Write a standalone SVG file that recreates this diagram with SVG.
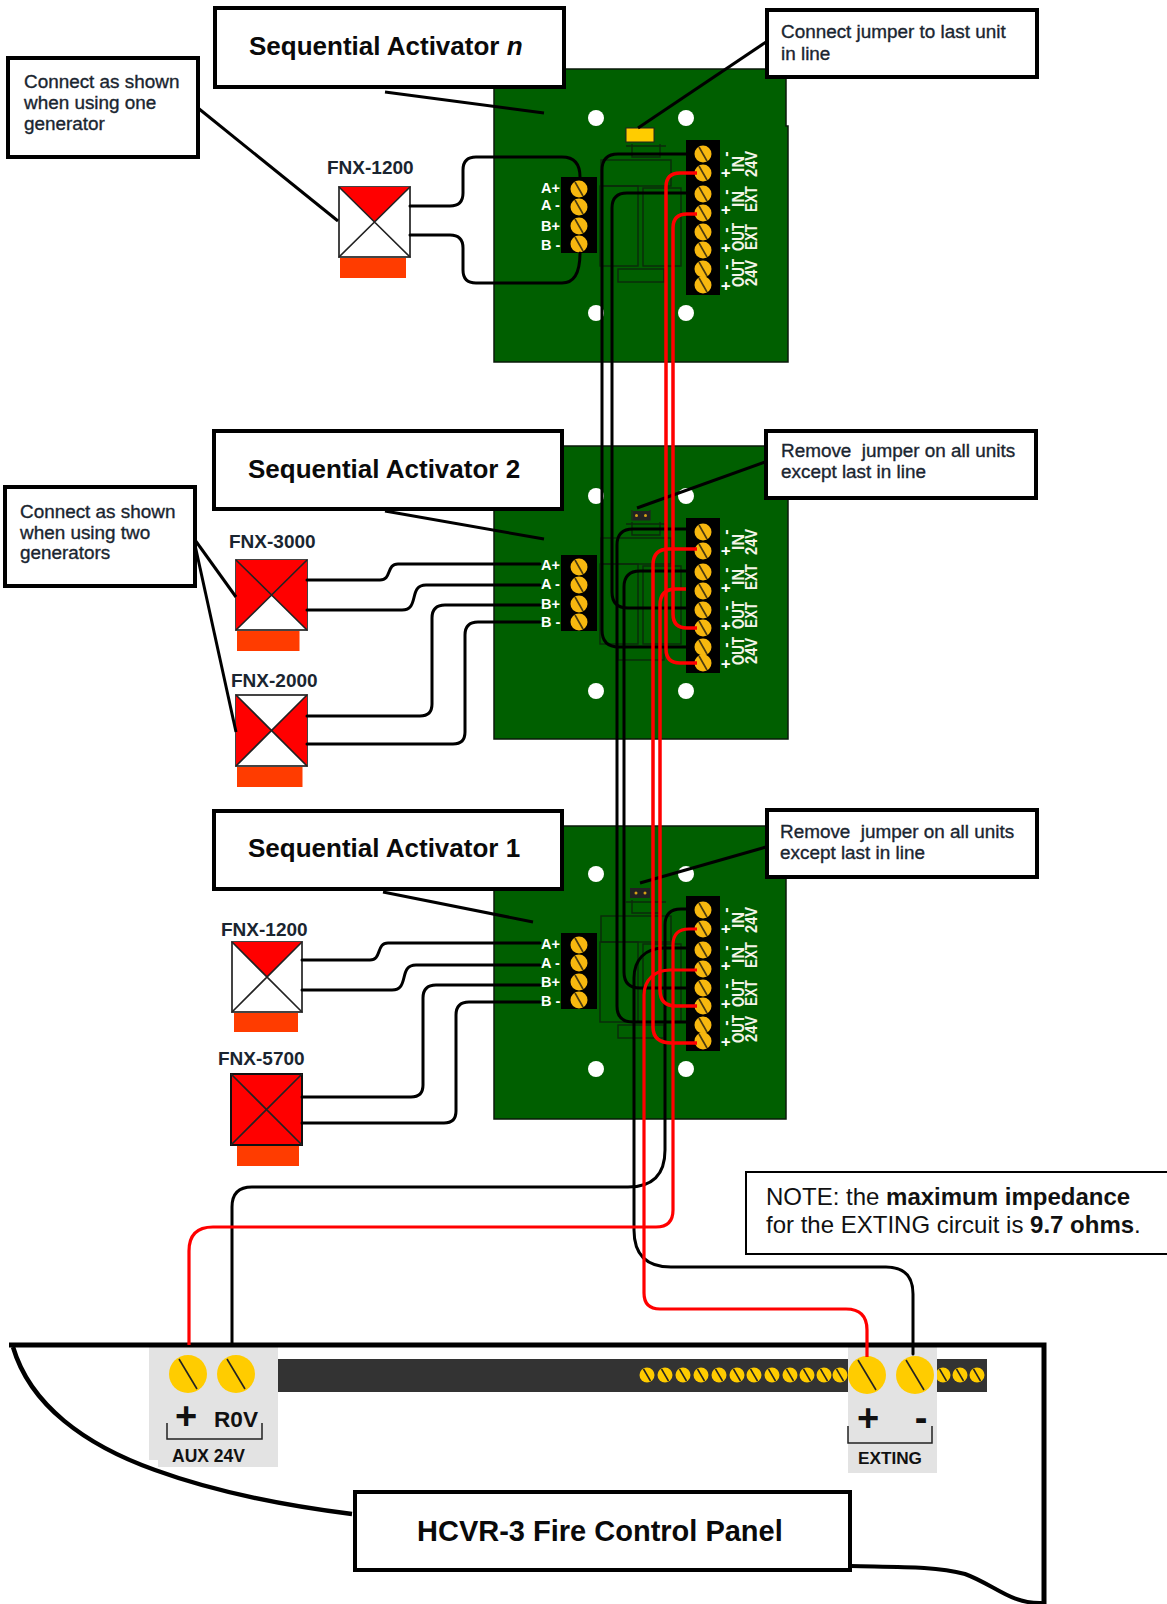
<svg xmlns="http://www.w3.org/2000/svg" width="1167" height="1604" viewBox="0 0 1167 1604">
<style>
text{font-family:"Liberation Sans",Arial,sans-serif}
.b{fill:#fff;stroke:#000;stroke-width:4}
.bd{fill:#005f00;stroke:#0a1a0a;stroke-width:1.5}
.d{fill:none;stroke:#0b2a0b;stroke-width:1.4}
.t{fill:#000}
.h{fill:#fff}
.ttl{font-size:26px;font-weight:bold;fill:#0a0a0a}
.cal{font-size:18.9px;fill:#1a2530;stroke:#1a2530;stroke-width:.35}
.fnx{font-size:19px;font-weight:bold;fill:#1a2530}
.wl{font-size:14.5px;font-weight:bold;fill:#fff}
.rl{font-size:16px;font-weight:bold;fill:#f4f4e8;text-anchor:middle}
.pm{font-size:16px;font-weight:bold;fill:#fff;text-anchor:middle}
.k{fill:none;stroke:#000;stroke-width:3;stroke-linecap:round}
.r{fill:none;stroke:#f00;stroke-width:3.5}
.r2{fill:none;stroke:#f00;stroke-width:3.2}
.l{fill:none;stroke:#000;stroke-width:3}
.o{fill:#ff3c00}
.dv{fill:#fff;stroke:#444;stroke-width:2}
.x{fill:none;stroke:#222;stroke-width:1.6}
.rd{fill:#f00}
.gr{fill:#e3e3e3}
.pl{font-weight:bold;fill:#111}
.br{fill:none;stroke:#222;stroke-width:1.5}
</style>
<defs>
<g id="s"><circle r="8.5" fill="#f7b80f"/><path d="M-4,-7L4,7" stroke="#4a3a10" stroke-width="1.6"/></g>
<g id="sm"><circle r="7.5" fill="#fc0"/><path d="M-3.5,-6L3.5,6" stroke="#222" stroke-width="1.5"/></g>
<g id="bg"><circle r="19" fill="#fc0"/><path d="M-9,-15L9,15" stroke="#222" stroke-width="1.6"/></g>
<g id="detail">
<path class="d" d="M632,144V157H660V144M626,146H666"/>
<rect class="d" x="601" y="160" width="70" height="26"/>
<rect class="d" x="600" y="186" width="38" height="80"/>
<rect class="d" x="643" y="188" width="38" height="78"/>
<rect class="d" x="618" y="269" width="46" height="13"/>
<circle class="h" cx="596" cy="118" r="8"/><circle class="h" cx="686" cy="118" r="8"/><circle class="h" cx="596" cy="313" r="8"/><circle class="h" cx="686" cy="313" r="8"/>
<rect class="t" x="561" y="177" width="36" height="76"/>
<rect class="t" x="686" y="140" width="34" height="155"/>
<use href="#s" x="579" y="189"/><use href="#s" x="579" y="207"/><use href="#s" x="579" y="226"/><use href="#s" x="579" y="244"/>
<use href="#s" x="703" y="154"/><use href="#s" x="703" y="173"/><use href="#s" x="703" y="194"/><use href="#s" x="703" y="213"/><use href="#s" x="703" y="232"/><use href="#s" x="703" y="250"/><use href="#s" x="703" y="269"/><use href="#s" x="703" y="285"/>
</g>
</defs>
<rect width="1167" height="1604" fill="#fff"/>

<g id="board-n">
<path class="bd" d="M494,69H786V126H788V362H494Z"/>
<use href="#detail"/>
<rect x="626" y="128" width="28" height="14" fill="#fc0" stroke="#222" stroke-width="1"/>
<g class="wl"><text x="541" y="193">A+</text><text x="541" y="210">A -</text><text x="541" y="231">B+</text><text x="541" y="250">B -</text></g>
<g class="pm"><text transform="translate(731,154) rotate(-90)">-</text><text transform="translate(731,173) rotate(-90)">+</text><text transform="translate(731,192) rotate(-90)">-</text><text transform="translate(731,210) rotate(-90)">+</text><text transform="translate(731,230) rotate(-90)">-</text><text transform="translate(731,248) rotate(-90)">+</text><text transform="translate(731,267) rotate(-90)">-</text><text transform="translate(731,286) rotate(-90)">+</text></g>
<g class="rl"><text transform="translate(744,164) rotate(-90)">IN</text><text transform="translate(757,164) rotate(-90)" textLength="26" lengthAdjust="spacingAndGlyphs">24V</text><text transform="translate(744,199) rotate(-90)">IN</text><text transform="translate(757,199) rotate(-90)" textLength="26" lengthAdjust="spacingAndGlyphs">EXT</text><text transform="translate(744,237) rotate(-90)" textLength="28" lengthAdjust="spacingAndGlyphs">OUT</text><text transform="translate(757,237) rotate(-90)" textLength="26" lengthAdjust="spacingAndGlyphs">EXT</text><text transform="translate(744,273) rotate(-90)" textLength="28" lengthAdjust="spacingAndGlyphs">OUT</text><text transform="translate(757,273) rotate(-90)" textLength="26" lengthAdjust="spacingAndGlyphs">24V</text></g>
</g>

<g id="board-2">
<rect class="bd" x="494" y="446" width="294" height="293"/>
<use href="#detail" y="378"/>
<path d="M632,510V520H650V510" fill="none" stroke="#222" stroke-width="1.2"/>
<rect x="633" y="511" width="17" height="9" fill="#222"/><circle cx="636.500" cy="515.500" r="1.500" fill="#d4a017"/><circle cx="645.500" cy="515.500" r="1.500" fill="#d4a017"/>
<g class="wl"><text x="541" y="570">A+</text><text x="541" y="589">A -</text><text x="541" y="609">B+</text><text x="541" y="627">B -</text></g>
<g class="pm"><text transform="translate(731,532) rotate(-90)">-</text><text transform="translate(731,551) rotate(-90)">+</text><text transform="translate(731,570) rotate(-90)">-</text><text transform="translate(731,588) rotate(-90)">+</text><text transform="translate(731,608) rotate(-90)">-</text><text transform="translate(731,626) rotate(-90)">+</text><text transform="translate(731,645) rotate(-90)">-</text><text transform="translate(731,664) rotate(-90)">+</text></g>
<g class="rl"><text transform="translate(744,542) rotate(-90)">IN</text><text transform="translate(757,542) rotate(-90)" textLength="26" lengthAdjust="spacingAndGlyphs">24V</text><text transform="translate(744,577) rotate(-90)">IN</text><text transform="translate(757,577) rotate(-90)" textLength="26" lengthAdjust="spacingAndGlyphs">EXT</text><text transform="translate(744,615) rotate(-90)" textLength="28" lengthAdjust="spacingAndGlyphs">OUT</text><text transform="translate(757,615) rotate(-90)" textLength="26" lengthAdjust="spacingAndGlyphs">EXT</text><text transform="translate(744,651) rotate(-90)" textLength="28" lengthAdjust="spacingAndGlyphs">OUT</text><text transform="translate(757,651) rotate(-90)" textLength="26" lengthAdjust="spacingAndGlyphs">24V</text></g>
</g>

<g id="board-1">
<rect class="bd" x="494" y="826" width="292" height="293"/>
<use href="#detail" y="756"/>
<rect x="630" y="888" width="20" height="10" fill="#222"/><circle cx="636" cy="893" r="1.500" fill="#d4a017"/><circle cx="645" cy="893" r="1.500" fill="#d4a017"/>
<g class="wl"><text x="541" y="949">A+</text><text x="541" y="968">A -</text><text x="541" y="987">B+</text><text x="541" y="1006">B -</text></g>
<g class="pm"><text transform="translate(731,910) rotate(-90)">-</text><text transform="translate(731,929) rotate(-90)">+</text><text transform="translate(731,948) rotate(-90)">-</text><text transform="translate(731,966) rotate(-90)">+</text><text transform="translate(731,986) rotate(-90)">-</text><text transform="translate(731,1004) rotate(-90)">+</text><text transform="translate(731,1023) rotate(-90)">-</text><text transform="translate(731,1042) rotate(-90)">+</text></g>
<g class="rl"><text transform="translate(744,920) rotate(-90)">IN</text><text transform="translate(757,920) rotate(-90)" textLength="26" lengthAdjust="spacingAndGlyphs">24V</text><text transform="translate(744,955) rotate(-90)">IN</text><text transform="translate(757,955) rotate(-90)" textLength="26" lengthAdjust="spacingAndGlyphs">EXT</text><text transform="translate(744,993) rotate(-90)" textLength="28" lengthAdjust="spacingAndGlyphs">OUT</text><text transform="translate(757,993) rotate(-90)" textLength="26" lengthAdjust="spacingAndGlyphs">EXT</text><text transform="translate(744,1029) rotate(-90)" textLength="28" lengthAdjust="spacingAndGlyphs">OUT</text><text transform="translate(757,1029) rotate(-90)" textLength="26" lengthAdjust="spacingAndGlyphs">24V</text></g>
</g>

<g id="panel">
<rect class="gr" x="149" y="1347" width="129" height="113"/><rect class="gr" x="158" y="1455" width="120" height="12"/>
<rect x="278" y="1359" width="709" height="33" fill="#333"/>
<use href="#sm" x="647" y="1375"/><use href="#sm" x="665" y="1375"/><use href="#sm" x="683" y="1375"/><use href="#sm" x="701" y="1375"/><use href="#sm" x="719" y="1375"/><use href="#sm" x="737" y="1375"/><use href="#sm" x="754" y="1375"/><use href="#sm" x="772" y="1375"/><use href="#sm" x="790" y="1375"/><use href="#sm" x="807" y="1375"/><use href="#sm" x="824" y="1375"/><use href="#sm" x="840" y="1375"/><use href="#sm" x="943" y="1375"/><use href="#sm" x="960" y="1375"/><use href="#sm" x="977" y="1375"/>
<rect class="gr" x="848" y="1347" width="89" height="126"/>
<path d="M13,1347C30,1405 85,1445 155,1470C210,1490 280,1505 352,1514" fill="none" stroke="#000" stroke-width="4.500"/>
<path d="M851,1566C900,1567 935,1566 965,1574C995,1585 1010,1604 1042,1603" fill="none" stroke="#000" stroke-width="4"/>
<path d="M9,1345H1044V1604" fill="none" stroke="#000" stroke-width="5"/>
<use href="#bg" x="188" y="1374"/><use href="#bg" x="236" y="1374"/><use href="#bg" x="867" y="1375"/><use href="#bg" x="915" y="1375"/>
<path class="br" d="M167,1423V1439H262V1423M848,1426V1443H932V1426"/>
<text class="pl" x="186" y="1429" font-size="38" text-anchor="middle">+</text>
<text class="pl" x="214" y="1427" font-size="22.600">R0V</text>
<text class="pl" x="172" y="1462" font-size="17.500">AUX 24V</text>
<text class="pl" x="868" y="1431" font-size="38" text-anchor="middle">+</text>
<text class="pl" x="921" y="1431" font-size="38" text-anchor="middle">-</text>
<text class="pl" x="858" y="1464" font-size="17.200">EXTING</text>
</g>

<g id="fnx-1200-n">
<text class="fnx" x="327" y="174">FNX-1200</text>
<rect class="o" x="340" y="257" width="66" height="21"/>
<rect class="dv" x="339" y="187" width="71" height="70"/>
<path class="rd" d="M339,187H410L374.500,222Z"/><path class="x" d="M339,187L410,257M410,187L339,257"/>
</g>
<g id="fnx-3000">
<text class="fnx" x="229" y="548">FNX-3000</text>
<rect class="o" x="237" y="629" width="62.500" height="22"/>
<rect class="dv" x="236" y="560" width="71" height="70"/>
<path class="rd" d="M236,560H307V630L271.500,595L236,630Z"/><path class="x" d="M236,560L307,630M307,560L236,630"/>
</g>
<g id="fnx-2000">
<text class="fnx" x="231" y="687">FNX-2000</text>
<rect class="o" x="237" y="765" width="65.500" height="22"/>
<rect class="dv" x="236" y="695" width="71" height="71"/>
<path class="rd" d="M236,695L271.500,730.500L236,766ZM307,695L271.500,730.500L307,766Z"/><path class="x" d="M236,695L307,766M307,695L236,766"/>
</g>
<g id="fnx-1200-1">
<text class="fnx" x="221" y="936">FNX-1200</text>
<rect class="o" x="234" y="1012" width="64" height="20"/>
<rect class="dv" x="232" y="942" width="70" height="70"/>
<path class="rd" d="M232,942H302L267,977Z"/><path class="x" d="M232,942L302,1012M302,942L232,1012"/>
</g>
<g id="fnx-5700">
<text class="fnx" x="218" y="1065">FNX-5700</text>
<rect class="o" x="237" y="1145" width="62" height="21"/>
<rect class="dv" x="231" y="1074" width="71" height="71" style="fill:#f00;stroke:#111"/>
<path class="x" d="M231,1074L302,1145M302,1074L231,1145"/>
</g>

<g id="connectors">
<path class="k" d="M410,206H450Q463,206 463,193V170Q463,157 476,157H562Q580,157 580,177"/>
<path class="k" d="M410,235H450Q463,235 463,248V270Q463,283 476,283H562Q580,283 580,253"/>
<path class="k" d="M307,580H380C392,580 386,564 398,564H540"/>
<path class="k" d="M307,610H402C420,610 408,585 426,585H540"/>
<path class="k" d="M307,716H420Q432,716 432,704V618Q432,605 445,605H540"/>
<path class="k" d="M307,744H453Q465,744 465,732V635Q465,622 478,622H540"/>
<path class="k" d="M302,960H370C382,960 376,943 388,943H540"/>
<path class="k" d="M302,990H392C410,990 398,965 416,965H540"/>
<path class="k" d="M302,1097H411Q423,1097 423,1085V998Q423,985 436,985H540"/>
<path class="k" d="M302,1123H444Q456,1123 456,1111V1015Q456,1002 469,1002H540"/>
<g class="l"><path d="M385,92L544,113"/><path d="M385,511L544,539"/><path d="M383,892L533,922"/>
<path d="M766,42L638,128"/><path d="M765,462L637,508"/><path d="M766,847L640,883"/>
<path d="M198,108L338,221"/><path d="M195,540L236,597"/><path d="M195,545L236,732"/></g>
<path class="k" d="M686,154H618Q602,154 602,170V630Q602,647 619,647H686"/>
<path class="k" d="M686,193H627Q612,193 612,208V592Q612,608 628,608H686"/>
<path class="k" d="M686,529H633Q617,529 617,545V1006Q617,1022 633,1022H686"/>
<path class="k" d="M686,571H640Q624,571 624,587V972Q624,988 640,988H686"/>
<path class="k" d="M686,909H681Q665,909 665,925V1150Q665,1187 628,1187H252Q232,1187 232,1207V1345"/>
<path class="k" d="M686,948H664C645,948 634,960 634,978V1230Q634,1267 671,1267H886Q913,1267 913,1294V1354"/>
<path class="r" d="M697,173H680Q666,173 666,187V649Q666,663 680,663H697"/>
<path class="r" d="M697,214H687Q673,214 673,228V614Q673,628 687,628H697"/>
<path class="r" d="M697,549H669Q653,549 653,565V1027Q653,1043 672,1043H697"/>
<path class="r" d="M686,589H676Q660,589 660,605V990Q660,1006 676,1006H697"/>
<path class="r2" d="M697,929H689Q673,929 673,945V1210Q673,1227 656,1227H213Q189,1227 189,1251V1345"/>
<path class="r2" d="M697,970H670C655,970 644,980 644,995V1293Q644,1309 660,1309H846Q867,1309 867,1330V1357"/>
</g>

<g id="title-n"><rect class="b" x="215" y="8" width="349" height="79"/><text class="ttl" x="249" y="55">Sequential Activator <tspan font-style="italic">n</tspan></text></g>
<g id="title-2"><rect class="b" x="214" y="431" width="348" height="78"/><text class="ttl" x="248" y="478">Sequential Activator 2</text></g>
<g id="title-1"><rect class="b" x="214" y="811" width="348" height="78"/><text class="ttl" x="248" y="857">Sequential Activator 1</text></g>
<g id="title-panel"><rect class="b" x="355" y="1492" width="495" height="78"/><text x="417" y="1541" font-size="29" font-weight="bold" fill="#0a0a0a">HCVR-3 Fire Control Panel</text></g>

<g id="callout-one"><rect class="b" x="8" y="58" width="190" height="99"/><text class="cal" x="24" y="88">Connect as shown</text><text class="cal" x="24" y="109">when using one</text><text class="cal" x="24" y="130">generator</text></g>
<g id="callout-two"><rect class="b" x="5" y="487" width="190" height="99"/><text class="cal" x="20" y="518">Connect as shown</text><text class="cal" x="20" y="539">when using two</text><text class="cal" x="20" y="559">generators</text></g>
<g id="callout-last"><rect class="b" x="767" y="10" width="270" height="67"/><text class="cal" x="781" y="38">Connect jumper to last unit</text><text class="cal" x="781" y="60">in line</text></g>
<g id="callout-rem2"><rect class="b" x="766" y="431" width="270" height="67"/><text class="cal" x="781" y="457">Remove &#160;jumper on all units</text><text class="cal" x="781" y="478">except last in line</text></g>
<g id="callout-rem1"><rect class="b" x="767" y="810" width="270" height="67"/><text class="cal" x="780" y="838">Remove &#160;jumper on all units</text><text class="cal" x="780" y="859">except last in line</text></g>
<g id="note"><rect x="746" y="1172" width="425" height="82" fill="#fff" stroke="#000" stroke-width="2"/><text x="766" y="1205" font-size="24" fill="#111">NOTE: the <tspan font-weight="bold">maximum impedance</tspan></text><text x="766" y="1233" font-size="24" fill="#111">for the EXTING circuit is <tspan font-weight="bold">9.7 ohms</tspan>.</text></g>
</svg>
